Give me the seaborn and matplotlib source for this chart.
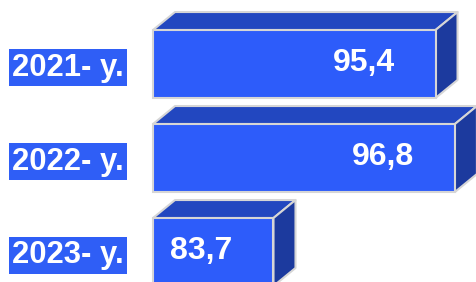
import matplotlib
matplotlib.use("Agg")
import matplotlib.pyplot as plt
from matplotlib.patches import Polygon
import seaborn as sns
import pandas as pd

years = ["2021- y.", "2022- y.", "2023- y."]
values = [95.4, 96.8, 83.7]
value_labels = ["95,4", "96,8", "83,7"]

BASE = 75.0
FRONT = "#2D5CFA"
TOP = "#2247C0"
SIDE = "#1C3A9E"
EDGE = "#D6D6D6"
LABEL_BG = "#2F5EF6"

sns.set_style("white")
plt.rcParams["font.family"] = ["Liberation Sans", "DejaVu Sans"]

W, H = 476, 282
fig = plt.figure(figsize=(W / 100, H / 100), dpi=100)
ax_left = 153
ax = fig.add_axes([ax_left / W, 0, (W - ax_left) / W, 1])

df = pd.DataFrame({"year": years, "value": values})
sns.barplot(data=df, x="value", y="year", orient="h", color=FRONT,
            saturation=1, width=0.723, edgecolor=EDGE, linewidth=1.5, ax=ax)

px_per_unit = 13.85
xmax = BASE + (W - ax_left) / px_per_unit
ax.set_xlim(BASE, xmax)
y_px_per_unit = 94.0
ylo = -64 / y_px_per_unit
yhi = 2 + (H - 252) / y_px_per_unit
ax.set_ylim(yhi, ylo)

dx = 22 / px_per_unit
dy = 18 / y_px_per_unit

for p in list(ax.patches):
    w = p.get_width()
    p.set_x(BASE)
    p.set_width(w - BASE)
    p.set_clip_on(False)
    p.set_zorder(3)
    x0, x1 = BASE, w
    y0 = p.get_y()
    y1 = y0 + p.get_height()
    ytop, ybot = min(y0, y1), max(y0, y1)
    top = Polygon([(x0, ytop), (x1, ytop), (x1 + dx, ytop - dy), (x0 + dx, ytop - dy)],
                  closed=True, facecolor=TOP, edgecolor=EDGE, linewidth=1.5,
                  clip_on=False, zorder=2, joinstyle="round")
    side = Polygon([(x1, ytop), (x1 + dx, ytop - dy), (x1 + dx, ybot - dy), (x1, ybot)],
                   closed=True, facecolor=SIDE, edgecolor=EDGE, linewidth=1.5,
                   clip_on=False, zorder=2, joinstyle="round")
    ax.add_patch(top)
    ax.add_patch(side)

for i, (v, lab) in enumerate(zip(values, value_labels)):
    ax.annotate(lab, xy=(v, i), xytext=(-72 * 0.72, 1), textcoords="offset points",
                ha="center", va="center", color="white", fontsize=23,
                fontweight="bold", zorder=5)

ax.set_xlabel("")
ax.set_ylabel("")
ax.set_xticks([])
ax.tick_params(axis="y", length=0, pad=21)
for lbl in ax.get_yticklabels():
    lbl.set_fontsize(22.3)
    lbl.set_fontweight("bold")
    lbl.set_color("white")
    lbl.set_bbox(dict(facecolor=LABEL_BG, edgecolor="none", pad=2.5))
for s in ax.spines.values():
    s.set_visible(False)

fig.savefig("out.png", dpi=100, facecolor="white")
